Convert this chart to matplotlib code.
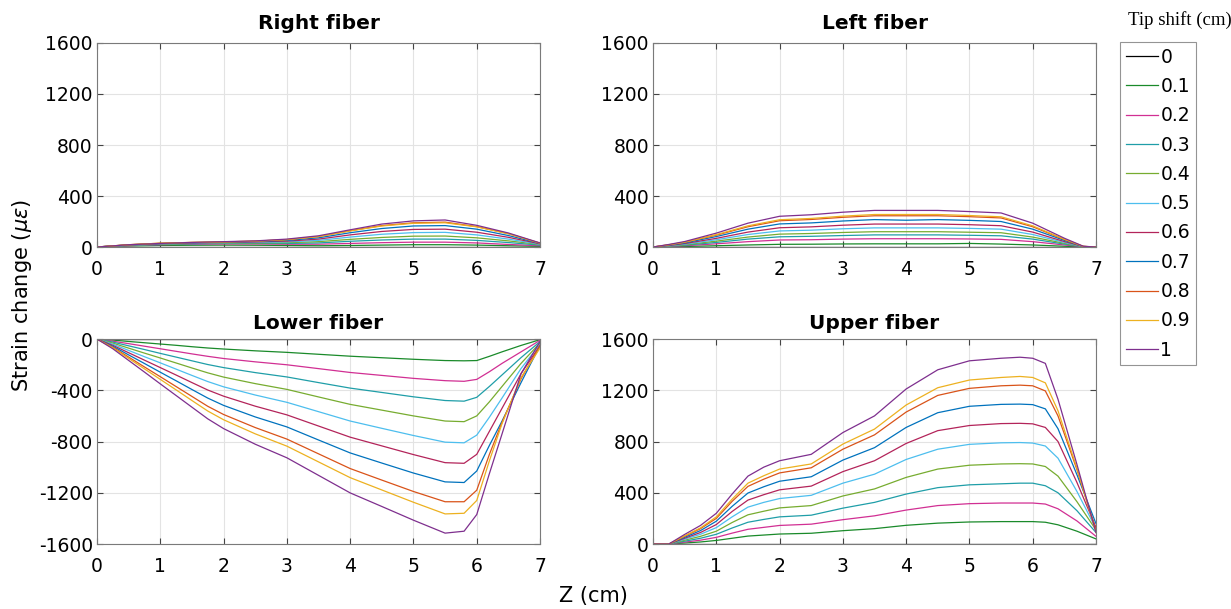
import numpy as np
import matplotlib.pyplot as plt

# tip shift (cm) for every curve
shifts = ["0", "0.1", "0.2", "0.3", "0.4", "0.5", "0.6", "0.7", "0.8", "0.9", "1"]
colors = ["#000000", "#1a8a2a", "#d12f93", "#1f9ea8", "#77ac30", "#4dbeee",
          "#b3245a", "#0072bd", "#d95319", "#edb120", "#7e2f8e"]

# Right fiber
z_right = [0, 0.5, 1, 1.5, 2, 2.5, 3, 3.5, 4, 4.5, 5, 5.5, 6, 6.5, 7]
right = [
    [0, 0, 0, 0, 0, 0, 0, 0, 0, 0, 0, 0, 0, 0, 0],
    [0, 8, 12, 14, 15, 14, 12, 10, 12, 15, 18, 18, 15, 10, 5],
    [0, 10, 18, 22, 24, 24, 22, 22, 28, 34, 38, 38, 32, 20, 10],
    [0, 12, 20, 25, 28, 28, 28, 32, 45, 55, 62, 62, 52, 35, 15],
    [0, 14, 22, 28, 32, 32, 34, 42, 60, 75, 85, 86, 72, 48, 20],
    [0, 15, 24, 30, 34, 36, 40, 52, 78, 100, 113, 115, 95, 62, 22],
    [0, 16, 26, 32, 36, 40, 46, 62, 95, 122, 138, 140, 116, 76, 25],
    [0, 17, 28, 34, 38, 44, 52, 72, 112, 145, 165, 168, 140, 90, 28],
    [0, 18, 30, 36, 40, 46, 58, 82, 128, 168, 190, 195, 160, 105, 30],
    [0, 18, 30, 36, 40, 46, 58, 82, 126, 165, 186, 190, 158, 104, 30],
    [0, 18, 28, 36, 42, 48, 62, 88, 135, 180, 205, 212, 170, 110, 32],
]

# Left fiber
z_left = [0, 0.25, 0.5, 1, 1.5, 2, 2.5, 3, 3.5, 4, 4.5, 5, 5.5, 6, 6.5, 6.8, 7]
left = [
    [0, 0, 0, 0, 0, 0, 0, 0, 0, 0, 0, 0, 0, 0, 0, 0, 0],
    [0, 2, 4, 10, 16, 21, 22, 24, 25, 25, 25, 28, 23, 16, 6, 1, 0],
    [0, 5, 10, 25, 42, 55, 57, 62, 65, 65, 65, 63, 60, 42, 16, 2, 0],
    [0, 7, 14, 36, 62, 80, 84, 90, 95, 95, 95, 92, 88, 62, 23, 2, 0],
    [0, 8, 18, 46, 78, 101, 106, 114, 120, 120, 120, 116, 112, 78, 29, 3, 0],
    [0, 10, 22, 57, 98, 126, 132, 143, 150, 150, 150, 146, 140, 98, 36, 3, 0],
    [0, 12, 27, 68, 117, 151, 158, 171, 180, 180, 180, 175, 167, 117, 43, 4, 0],
    [0, 15, 32, 82, 140, 181, 189, 204, 215, 210, 215, 209, 200, 140, 52, 4, 0],
    [0, 17, 37, 93, 159, 206, 216, 233, 245, 245, 245, 238, 228, 159, 59, 5, 0],
    [0, 18, 38, 97, 166, 214, 224, 242, 255, 255, 255, 247, 237, 166, 61, 5, 0],
    [0, 20, 43, 109, 187, 241, 253, 273, 287, 287, 287, 278, 267, 187, 69, 6, 0],
]

# Lower fiber
z_lower = [0, 0.25, 0.5, 0.75, 1, 1.25, 1.5, 1.75, 2, 2.5, 3, 3.5, 4, 4.5, 5,
           5.5, 5.8, 6, 6.2, 6.4, 6.7, 7]
lower = [
    [0] * 22,
    [0, -8, -19, -29, -39, -49, -60, -70, -78, -92, -104, -119, -134, -146, -158, -168, -170, -168, -135, -100, -50, -5],
    [0, -17, -36, -56, -76, -96, -116, -135, -152, -178, -201, -231, -261, -284, -307, -325, -330, -315, -255, -190, -100, -10],
    [0, -24, -53, -82, -112, -141, -170, -199, -223, -262, -296, -340, -383, -417, -451, -480, -485, -455, -370, -280, -145, -20],
    [0, -32, -71, -110, -148, -187, -226, -264, -297, -348, -393, -452, -510, -555, -600, -640, -645, -600, -490, -370, -190, -30],
    [0, -40, -89, -138, -186, -235, -284, -332, -373, -437, -494, -567, -640, -697, -753, -805, -810, -750, -610, -460, -230, -40],
    [0, -49, -107, -165, -223, -281, -340, -398, -446, -524, -592, -679, -766, -834, -902, -965, -970, -900, -720, -540, -270, -50],
    [0, -56, -124, -191, -259, -326, -394, -461, -518, -608, -686, -788, -889, -968, -1046, -1115, -1120, -1030, -830, -640, -340, -50],
    [0, -64, -141, -218, -294, -371, -448, -525, -589, -691, -781, -896, -1011, -1101, -1190, -1270, -1270, -1180, -900, -650, -310, -50],
    [0, -69, -151, -233, -315, -397, -480, -562, -630, -740, -836, -959, -1082, -1178, -1274, -1365, -1360, -1260, -950, -660, -300, -70],
    [0, -76, -167, -258, -350, -441, -532, -623, -699, -821, -927, -1064, -1201, -1307, -1414, -1515, -1500, -1370, -1050, -740, -270, -20],
]

# Upper fiber
z_upper = [0, 0.25, 0.5, 0.75, 1, 1.25, 1.5, 1.75, 2, 2.5, 3, 3.5, 4, 4.5, 5,
           5.5, 5.8, 6, 6.2, 6.4, 6.7, 7]
upper = [
    [0] * 22,
    [0, 0, 8, 16, 28, 45, 62, 70, 78, 84, 104, 120, 146, 163, 172, 175, 175, 175, 170, 150, 100, 40],
    [0, 0, 15, 30, 52, 85, 115, 130, 145, 155, 190, 220, 265, 300, 315, 320, 320, 320, 312, 275, 180, 60],
    [0, 0, 22, 45, 76, 125, 170, 192, 212, 225, 280, 325, 390, 440, 462, 470, 475, 475, 455, 400, 260, 90],
    [0, 0, 30, 60, 100, 168, 228, 256, 282, 300, 375, 430, 520, 585, 615, 625, 627, 625, 605, 530, 330, 110],
    [0, 0, 38, 76, 128, 212, 288, 325, 355, 380, 475, 545, 660, 740, 778, 790, 792, 788, 765, 670, 410, 120],
    [0, 0, 45, 90, 152, 254, 343, 385, 423, 452, 565, 650, 785, 885, 925, 940, 942, 938, 910, 800, 480, 130],
    [0, 0, 52, 105, 178, 294, 398, 447, 490, 525, 655, 752, 910, 1025, 1075, 1090, 1092, 1088, 1055, 900, 540, 160],
    [0, 0, 60, 120, 200, 333, 450, 506, 555, 595, 740, 852, 1030, 1160, 1215, 1235, 1240, 1235, 1195, 1000, 580, 110],
    [0, 0, 64, 126, 212, 350, 475, 533, 585, 625, 780, 897, 1085, 1220, 1280, 1300, 1308, 1300, 1258, 1040, 590, 90],
    [0, 0, 75, 145, 240, 390, 530, 600, 650, 700, 870, 1000, 1210, 1360, 1430, 1450, 1458, 1450, 1410, 1130, 620, 90],
]

plt.rcParams['font.family'] = ['DejaVu Sans']
plt.rcParams['mathtext.fontset'] = 'dejavusans'
plt.rcParams['axes.unicode_minus'] = False

fig = plt.figure(figsize=(12.31, 6.09), dpi=100)

panels = [
    ("Right fiber", z_right, right, [0.0788, 0.5944, 0.3599, 0.3350], (0, 1600), 10),
    ("Left fiber", z_left, left, [0.5305, 0.5944, 0.3598, 0.3350], (0, 1600), 10),
    ("Lower fiber", z_lower, lower, [0.0788, 0.1067, 0.3599, 0.3366], (-1600, 0), 7),
    ("Upper fiber", z_upper, upper, [0.5305, 0.1067, 0.3598, 0.3366], (0, 1600), 7),
]

handles = []
for title, z, series, pos, ylim, tpad in panels:
    ax = fig.add_axes(pos)
    hs = []
    for vals, c, lab in zip(series, colors, shifts):
        h, = ax.plot(z, vals, color=c, lw=0.9, label=lab)
        hs.append(h)
    if not handles:
        handles = hs
    ax.set_xlim(0, 7)
    ax.set_ylim(*ylim)
    ax.set_xticks(range(0, 8))
    ax.set_yticks(np.arange(ylim[0], ylim[1] + 1, 400))
    ax.grid(True, color="#e3e3e3", lw=0.8)
    ax.tick_params(direction="in", top=True, right=True, length=4,
                   labelsize=13.5, color="#444444")
    ax.tick_params(axis="x", pad=9)
    ax.tick_params(axis="y", pad=3)
    for s in ax.spines.values():
        s.set_color("#7a7a7a")
        s.set_linewidth(0.8)
    ax.set_title(title, fontsize=14.5, fontweight="bold", pad=tpad)

leg = fig.legend(handles, shifts, loc="upper left",
                 bbox_to_anchor=(1120 / 1231, 1 - 42 / 609),
                 fontsize=13.5, frameon=True, fancybox=False,
                 handlelength=1.7, handletextpad=0.15, labelspacing=0.55,
                 borderpad=0.3, borderaxespad=0)
leg.get_frame().set_edgecolor("#7a7a7a")
leg.get_frame().set_linewidth(0.8)

fig.text(1180 / 1231, 1 - 20 / 609, "Tip shift (cm)", family="Liberation Serif",
         fontsize=13.5, ha="center", va="center")
fig.text(22 / 1231, 1 - 295 / 609, r"Strain change ($\mu\epsilon$)", rotation=90,
         fontsize=15, ha="center", va="center")
fig.text(593 / 1231, 1 - 596 / 609, "Z (cm)", fontsize=15, ha="center", va="center")

fig.savefig("out.png", dpi=100)
